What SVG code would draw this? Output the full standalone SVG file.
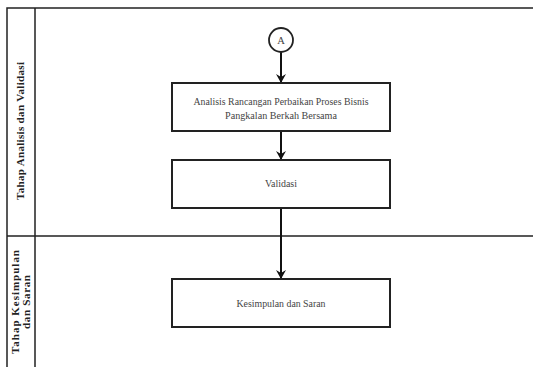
<svg xmlns="http://www.w3.org/2000/svg" width="533" height="367" viewBox="0 0 533 367">
<style>
.lane{fill:none;stroke:#222;stroke-width:1.5}
.box{fill:#fff;stroke:#222;stroke-width:2}
.t{font-family:'Liberation Serif','DejaVu Serif',serif;font-size:10.5px;fill:#444;text-anchor:middle}
.lt{font-family:'Liberation Serif','DejaVu Serif',serif;font-size:11px;font-weight:bold;fill:#222;text-anchor:middle}
.c{stroke:#111;stroke-width:2;fill:none}
</style>
<defs>
<marker id="ah" markerWidth="10" markerHeight="10" refX="8" refY="5" orient="auto" markerUnits="userSpaceOnUse">
<path d="M0,0 L9,5 L0,10 L3,5 Z" fill="#111"/>
</marker>
</defs>
<rect width="533" height="367" fill="#fff"/>
<g id="lanes">
<path class="lane" d="M7,367 V8 H533 M35,8 V367 M7,236 H533"/>
<text class="lt" transform="translate(24,131) rotate(-90)" textLength="138" lengthAdjust="spacing">Tahap Analisis dan Validasi</text>
<text class="lt" transform="translate(18.5,302) rotate(-90)" textLength="104" lengthAdjust="spacing">Tahap Kesimpulan</text>
<text class="lt" transform="translate(30,302) rotate(-90)" textLength="54" lengthAdjust="spacing">dan Saran</text>
</g>
<g id="connectors">
<path class="c" d="M281,52 V82" marker-end="url(#ah)"/>
<path class="c" d="M281,131 V159" marker-end="url(#ah)"/>
<path class="c" d="M281,208 V278" marker-end="url(#ah)"/>
</g>
<g id="nodeA">
<circle cx="281" cy="40" r="12" fill="#fff" stroke="#222" stroke-width="1.8"/>
<text class="t" x="281" y="44">A</text>
</g>
<g id="node1">
<rect class="box" x="172" y="83" width="218" height="48"/>
<text class="t" x="281" y="105" textLength="175" lengthAdjust="spacingAndGlyphs">Analisis Rancangan Perbaikan Proses Bisnis</text>
<text class="t" x="281" y="119" textLength="112" lengthAdjust="spacingAndGlyphs">Pangkalan Berkah Bersama</text>
</g>
<g id="node2">
<rect class="box" x="172" y="160" width="218" height="48"/>
<text class="t" x="281" y="187" textLength="32" lengthAdjust="spacingAndGlyphs">Validasi</text>
</g>
<g id="node3">
<rect class="box" x="172" y="279" width="218" height="48"/>
<text class="t" x="281" y="307" textLength="89" lengthAdjust="spacingAndGlyphs">Kesimpulan dan Saran</text>
</g>
</svg>
